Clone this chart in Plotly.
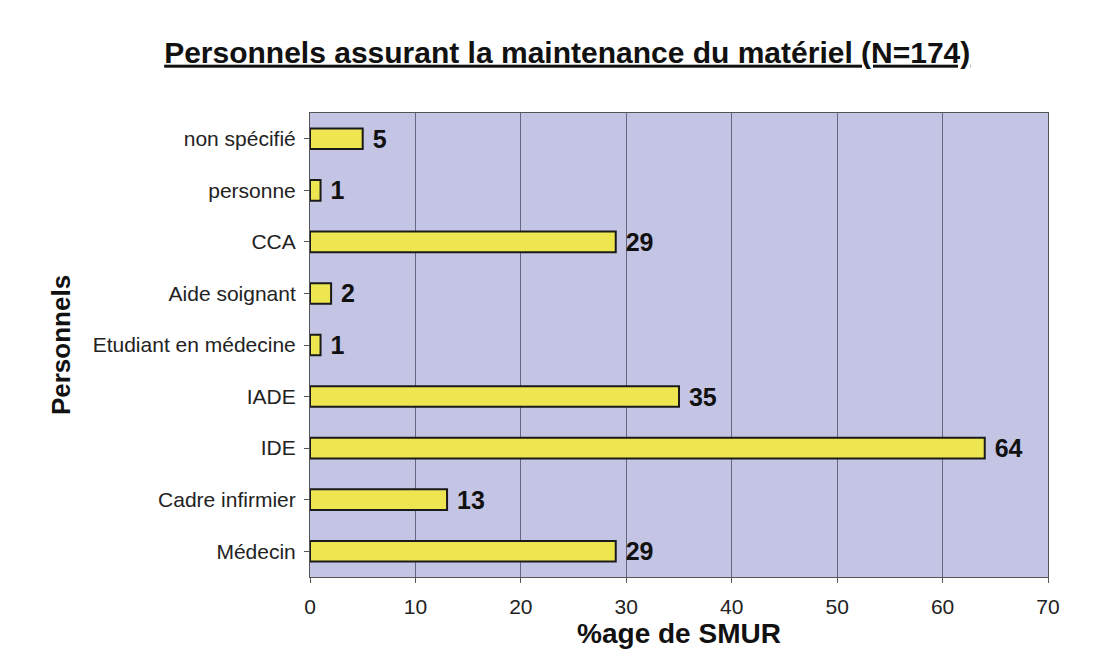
import plotly.graph_objects as go

categories = ["Médecin", "Cadre infirmier", "IDE", "IADE", "Etudiant en médecine",
              "Aide soignant", "CCA", "personne", "non spécifié"]
values = [29, 13, 64, 35, 1, 2, 29, 1, 5]
x_ticks = [0, 10, 20, 30, 40, 50, 60, 70]

font_family = "Liberation Sans, Arial, sans-serif"

fig = go.Figure(go.Bar(
    y=categories,
    x=values,
    orientation="h",
    marker=dict(color="#EEE650", line=dict(color="#1a1a1a", width=2)),
    texttemplate=" %{x}",
    textposition="outside",
    constraintext="none",
    textfont=dict(family=font_family, size=25, color="#111111", weight="bold"),
    cliponaxis=False,
    width=0.4,
))

fig.update_layout(
    width=1103, height=650,
    margin=dict(l=302, r=63, t=105, b=81),
    paper_bgcolor="white",
    plot_bgcolor="#C4C4E4",
    showlegend=False,
    font=dict(family=font_family, color="#222222"),
    title=dict(
        text="<u>Personnels assurant la maintenance du matériel (N=174)</u>",
        x=0.507, xanchor="center", y=0.932, yanchor="middle",
        font=dict(family=font_family, size=30, color="#111111", weight="bold"),
    ),
)

fig.update_xaxes(
    range=[0, 70], tickvals=x_ticks, showgrid=True, gridcolor="#666680", gridwidth=1,
    zeroline=False, showline=True, linecolor="#555555", ticks="outside", ticklen=5,
    tickcolor="#555555", tickfont=dict(size=21, color="#222222"), ticklabelstandoff=6,
    title=dict(text="%age de SMUR", font=dict(size=28, color="#111111", weight="bold"), standoff=2),
    mirror=True,
)
fig.update_yaxes(
    showgrid=False, showline=True, linecolor="#555555", ticks="outside", ticklen=5,
    tickcolor="#555555", tickfont=dict(size=21, color="#222222"), ticklabelstandoff=4,
    title=dict(text="Personnels", font=dict(size=26, color="#111111", weight="bold"), standoff=14),
    mirror=True,
)

fig.write_html("out.html")
